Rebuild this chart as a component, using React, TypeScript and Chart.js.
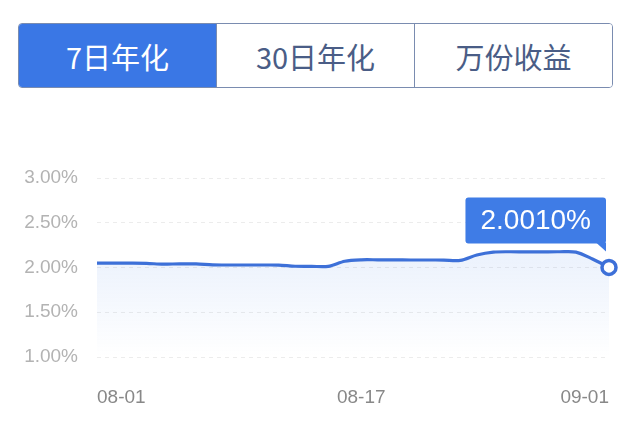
import { useEffect, useRef } from "react";
import { Chart, registerables } from "chart.js";

Chart.register(...registerables);

// tabs above the chart
const tabLabels = ["7日年化", "30日年化", "万份收益"];

// one point per day, 08-01 .. 09-01
const dates = [
  "08-01", "08-02", "08-03", "08-04", "08-05", "08-06", "08-07", "08-08",
  "08-09", "08-10", "08-11", "08-12", "08-13", "08-14", "08-15", "08-16",
  "08-17", "08-18", "08-19", "08-20", "08-21", "08-22", "08-23", "08-24",
  "08-25", "08-26", "08-27", "08-28", "08-29", "08-30", "08-31", "09-01",
];

// 7-day annualised yield, %
const yieldValues = [
  2.048, 2.048, 2.048, 2.046, 2.037, 2.041, 2.040, 2.030,
  2.028, 2.028, 2.028, 2.027, 2.014, 2.013, 2.013, 2.070,
  2.086, 2.086, 2.085, 2.084, 2.084, 2.083, 2.080, 2.140,
  2.172, 2.176, 2.174, 2.175, 2.176, 2.172, 2.095, 2.001,
];

const xTickLabels = ["08-01", "08-17", "09-01"];
const yTickValues = [1.0, 1.5, 2.0, 2.5, 3.0];
const highlightLabel = "2.0010%";

const LINE_BLUE = "#3d70d8";
const BOX_BLUE = "#3f7ce6";
const FONT = "'Liberation Sans', Arial, sans-serif";

// draws the callout box above the last point
const calloutPlugin = {
  id: "callout",
  afterDatasetsDraw(chart: Chart) {
    const meta = chart.getDatasetMeta(0);
    const pt = meta.data[meta.data.length - 1];
    if (!pt) return;
    const ctx = chart.ctx;
    ctx.save();
    ctx.font = `28px ${FONT}`;
    const tw = ctx.measureText(highlightLabel).width;
    const w = tw + 30;
    const h = 46;
    const right = pt.x - 3;
    const bottom = pt.y - 24;
    const left = right - w;
    const top = bottom - h;
    ctx.fillStyle = BOX_BLUE;
    ctx.beginPath();
    ctx.roundRect(left, top, w, h, 3);
    ctx.fill();
    // tail
    ctx.beginPath();
    ctx.moveTo(right - 10, bottom - 1);
    ctx.lineTo(right, bottom - 1);
    ctx.lineTo(right, bottom + 8);
    ctx.closePath();
    ctx.fill();
    ctx.fillStyle = "#ffffff";
    ctx.textAlign = "center";
    ctx.textBaseline = "middle";
    ctx.fillText(highlightLabel, left + w / 2, top + h / 2 + 1);
    ctx.restore();
  },
};

const YieldChart = () => {
  const canvasRef = useRef<HTMLCanvasElement>(null);

  useEffect(() => {
    if (!canvasRef.current) return;
    const last = yieldValues.length - 1;

    const chart = new Chart(canvasRef.current, {
      type: "line",
      data: {
        labels: dates,
        datasets: [
          {
            data: yieldValues,
            borderColor: LINE_BLUE,
            borderWidth: 3.2,
            tension: 0.3,
            fill: "start",
            backgroundColor: (c: any) => {
              const area = c.chart.chartArea;
              if (!area) return "rgba(70,130,230,0.08)";
              const g = c.chart.ctx.createLinearGradient(0, area.top + 80, 0, area.bottom);
              g.addColorStop(0, "rgba(70,130,230,0.10)");
              g.addColorStop(1, "rgba(70,130,230,0.0)");
              return g;
            },
            pointRadius: (c: any) => (c.dataIndex === last ? 7 : 0),
            pointHoverRadius: (c: any) => (c.dataIndex === last ? 7 : 0),
            pointBackgroundColor: "#ffffff",
            pointBorderColor: LINE_BLUE,
            pointBorderWidth: 3.5,
          },
        ],
      },
      options: {
        responsive: false,
        animation: false,
        events: [],
        layout: { padding: { top: 178, right: 17, left: 0, bottom: 0 } },
        plugins: {
          legend: { display: false },
          tooltip: { enabled: false },
        },
        scales: {
          x: {
            grid: { display: false },
            border: { display: false },
            ticks: {
              autoSkip: false,
              maxRotation: 0,
              align: "inner",
              padding: 21,
              color: "#888888",
              font: { size: 19, family: FONT },
              callback: (_v: any, i: number) =>
                xTickLabels.includes(dates[i]) ? dates[i] : "",
            },
            afterFit: (s: any) => {
              s.height = 75;
            },
          },
          y: {
            min: 1,
            max: 3,
            afterBuildTicks: (s: any) => {
              s.ticks = yTickValues.map((v) => ({ value: v }));
            },
            grid: {
              color: "#ececec",
              drawTicks: false,
            },
            border: { display: false, dash: [4, 4] },
            ticks: {
              padding: 19,
              color: "#b3b3b3",
              font: { size: 19, family: FONT },
              callback: (v: any) => Number(v).toFixed(2) + "%",
            },
            afterFit: (s: any) => {
              s.width = 97;
            },
          },
        },
      },
      plugins: [calloutPlugin],
    });

    return () => {
      chart.destroy();
    };
  }, []);

  return <canvas ref={canvasRef} width={630} height={432} style={{ position: "absolute", left: 0, top: 0 }} />;
};

export default function App() {
  return (
    <div style={{ position: "fixed", left: 0, top: 0, width: 630, height: 432, background: "#fff", overflow: "hidden" }}>
      <YieldChart />
      <div
        style={{
          position: "absolute",
          left: 18,
          top: 23,
          width: 595,
          height: 65,
          boxSizing: "border-box",
          border: "1.5px solid #7a8cb0",
          borderRadius: 4,
          display: "flex",
          overflow: "hidden",
          fontFamily: "'Noto Sans CJK SC', sans-serif",
        }}
      >
        {tabLabels.map((t, i) => (
          <div
            key={t}
            style={{
              flex: 1,
              display: "flex",
              alignItems: "center",
              justifyContent: "center",
              fontSize: 29,
              fontWeight: 400,
              background: i === 0 ? "#3a77e5" : "#fff",
              color: i === 0 ? "#fff" : "#4a5d86",
              borderLeft: i > 0 ? "1.5px solid #7a8cb0" : "none",
            }}
          >
            {t}
          </div>
        ))}
      </div>
    </div>
  );
}
